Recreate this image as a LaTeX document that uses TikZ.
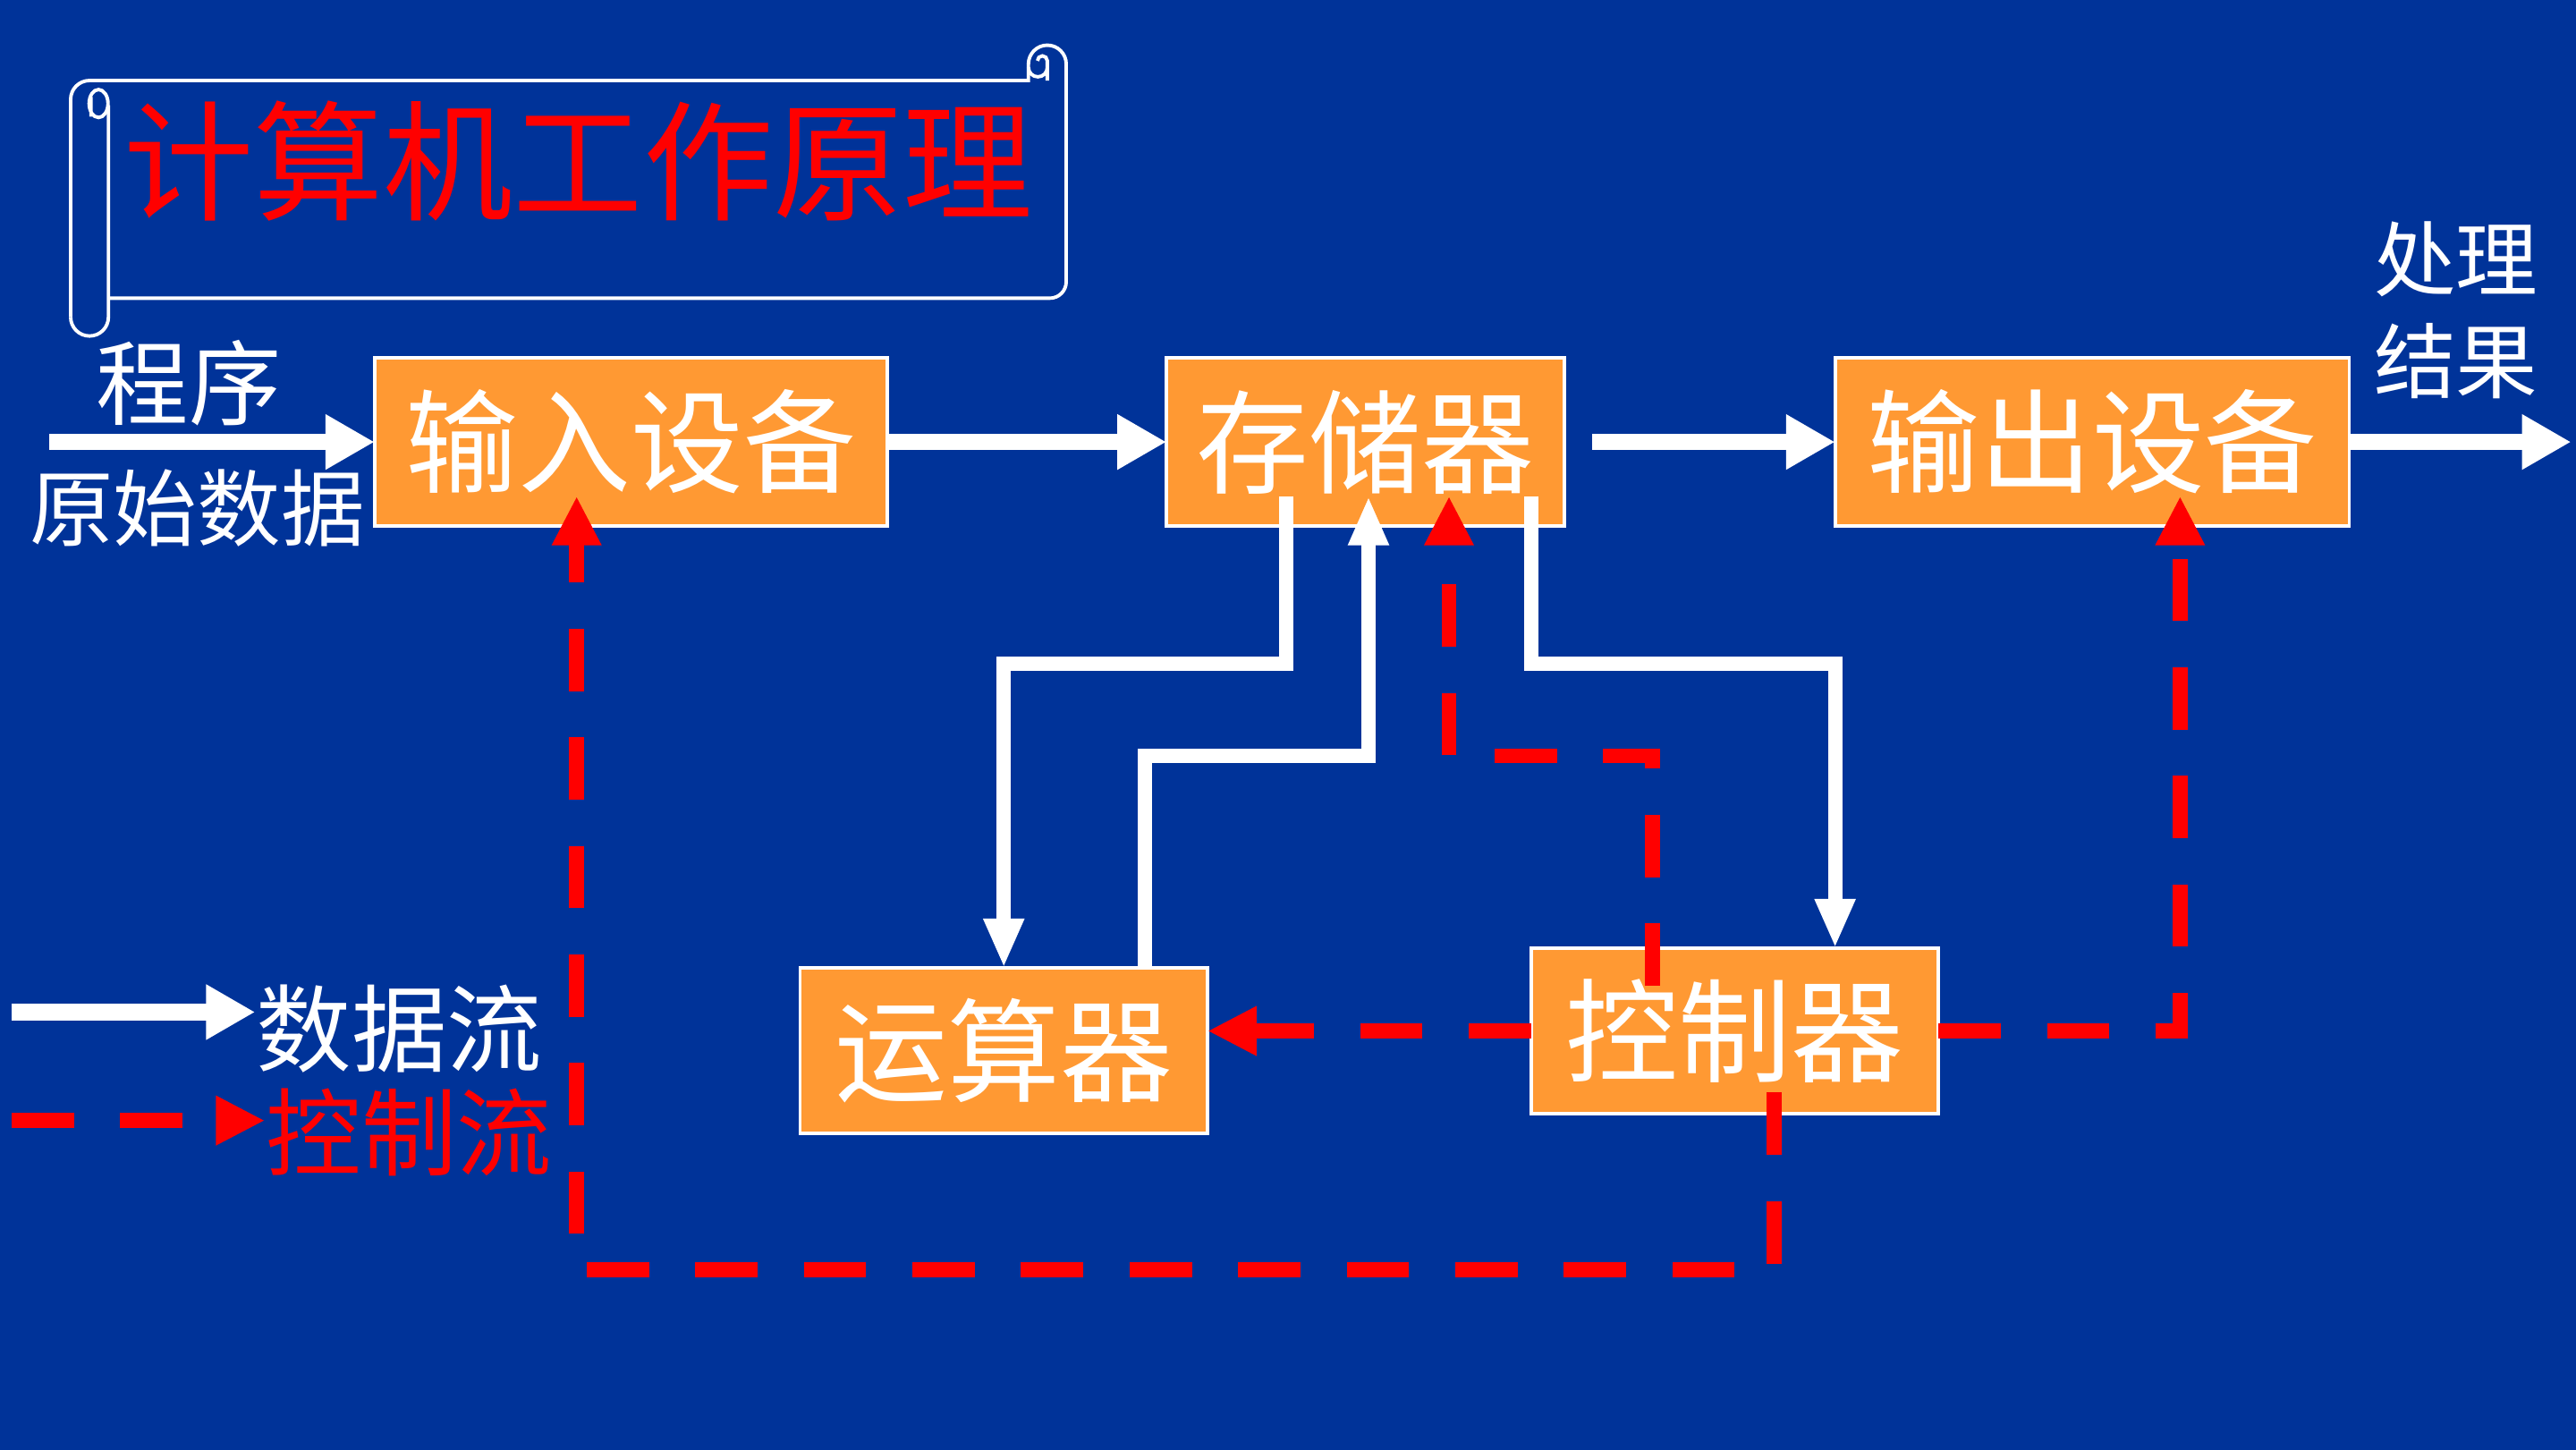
\documentclass[tikz,border=0pt]{standalone}
\usepackage{fontspec}
\usetikzlibrary{arrows.meta,calc}
\newfontfamily\cjk{Noto Sans CJK SC}
\definecolor{slidebg}{RGB}{0,51,153}
\definecolor{boxfill}{RGB}{255,153,51}
\definecolor{ctlred}{RGB}{255,0,0}
\newcommand{\fs}[1]{\cjk\fontsize{#1}{#1}\selectfont}
\tikzset{>=Triangle,every node/.style={font=\cjk},
 unit/.style={draw=white,line width=.6pt,fill=boxfill,text=white,font=\fs{19.5},minimum height=10.2mm,inner sep=0pt,outer sep=0pt},
 lbl/.style={text=white,inner sep=0pt},
 mainflow/.style={white,line width=2.85pt,-{Triangle[length=8.5pt,width=9pt]}},
 dataflow/.style={white,line width=2.5pt,-{Triangle[length=8.5pt,width=6.5pt]}},
 ctlflow/.style={ctlred,line width=2.6pt,dash pattern=on 10.8pt off 8pt,-{Triangle[length=8.5pt,width=8pt]}},
 scroll/.style={white,line width=.6pt}}

\begin{document}
\begin{tikzpicture}[x=.1mm,y=-.1mm]
\useasboundingbox (0,0) rectangle (1568,882);
\fill[slidebg] (-10,-10) rectangle (1578,892);
\draw[scroll] (43,193)--(43,60.5) arc[start angle=180,end angle=270,radius=11.5]--(626,49)--(626,39) arc[start angle=180,end angle=360,radius=11.5]--(649,171.5) arc[start angle=0,end angle=90,radius=10]--(66,181.5);
\draw[scroll] (43,193) arc[start angle=180,end angle=0,radius=11.5]--(66,64);
\draw[scroll] (60,63) ellipse[x radius=5.75,y radius=8.5] (55.4,59)--(55.4,71);
\draw[scroll] (637.5,49)--(637.5,37) arc[start angle=0,end angle=-180,radius=3] (626,41) arc[start angle=180,end angle=0,radius=5.75];
\node[text=ctlred,font=\fs{22.5}] (ttl) at (352,98) {计算机工作原理};

\node[unit,minimum width=31.2mm] (inbox) at (384,269) {输入设备};
\node[unit,minimum width=24.2mm] (mem) at (831,269) {存储器};
\node[unit,minimum width=31.3mm] (outbox) at (1273.5,269) {输出设备};
\node[unit,minimum width=24.8mm,minimum height=10.1mm] (alu) at (611,639.5) {运算器};
\node[unit,minimum width=24.8mm,minimum height=10.1mm] (ctl) at (1056,627.5) {控制器};

\node[lbl,font=\fs{16}] (prog) at (115,233) {程序};
\node[lbl,font=\fs{14.5}] (raw) at (120,309) {原始数据};
\node[lbl,font=\fs{14.2}] (res1) at (1495,158) {处理};
\node[lbl,font=\fs{14.2}] (res2) at (1495,220) {结果};
\node[lbl,font=\fs{16.5}] (dflow) at (243,626) {数据流};
\node[lbl,text=ctlred,font=\fs{16.5}] (cflow) at (249,689) {控制流};
\coordinate (src) at (30,269); \coordinate (dst) at (1565,269);
\coordinate (key1) at (7,616); \coordinate (key2) at (7,682);

\draw[mainflow] (src)--(inbox); \draw[mainflow] (inbox)--(mem);
\draw[mainflow,shorten <=1.7mm] (mem)--(outbox); \draw[mainflow] (outbox)--(dst);
\draw[dataflow] ($(mem.south)+(-48,-18)$)--++(0,102)-|(alu);
\draw[dataflow] ($(alu.north)+(86,0)$)--++(0,-129)-|($(mem.south)+(2,-18)$);
\draw[dataflow] ($(mem.south)+(101,-18)$)--++(0,102)-|($(ctl.north)+(61,0)$);

\draw[ctlflow] ($(ctl.north)+(-50,23)$)--++(0,-140)-|($(mem.south)+(51,-18)$);
\draw[ctlflow] (ctl.west)--(ctl.west-|alu.east);
\draw[ctlflow] (ctl.east)-|($(outbox.south)+(53.5,-18)$);
\draw[ctlflow] ($(ctl.south)+(24,-13)$)--++(0,108)-|($(inbox.south)+(-33,-18)$);

\draw[mainflow] (key1)--(key1-|dflow.west);
\draw[ctlflow] (key2)--(key2-|cflow.west);
\end{tikzpicture}
\end{document}
